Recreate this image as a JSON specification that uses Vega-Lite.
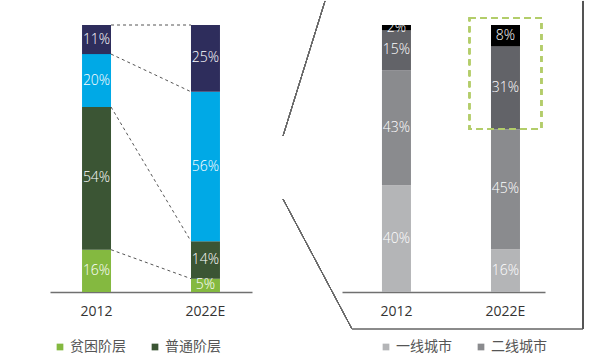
{
  "$schema": "https://vega.github.io/schema/vega-lite/v6.json",
  "background": "white",
  "padding": {"left": 50, "top": 0, "right": 0, "bottom": 0},
  "autosize": {"type": "pad"},
  "bounds": "flush",
  "spacing": 90,
  "config": {
    "view": {"stroke": null},
    "font": "Open Sans",
    "axis": {"labelFont": "Open Sans", "labelFontSize": 14, "labelColor": "#333333", "ticks": false, "labelPadding": 12, "labelAngle": 0, "title": null, "domainColor": "#707070", "domainWidth": 1.5, "grid": false},
    "legend": {"labelFont": "Noto Sans CJK SC", "labelFontSize": 14, "labelColor": "#555555", "symbolType": "square", "symbolSize": 45, "symbolStrokeWidth": 0, "labelOffset": 3, "columnPadding": 22, "orient": "none", "direction": "horizontal", "title": null}
  },
  "resolve": {"scale": {"color": "independent", "x": "independent", "y": "independent"}, "legend": {"color": "independent"}},
  "hconcat": [
    {
      "width": 202,
      "height": 267,
      "data": {"values": [
        {"year": "2012", "group": "贫困阶层", "share": 0.16, "rank": 1},
        {"year": "2012", "group": "普通阶层", "share": 0.54, "rank": 2},
        {"year": "2012", "group": "中产阶层", "share": 0.20, "rank": 3},
        {"year": "2012", "group": "富裕阶层", "share": 0.11, "rank": 4},
        {"year": "2022E", "group": "贫困阶层", "share": 0.05, "rank": 1},
        {"year": "2022E", "group": "普通阶层", "share": 0.14, "rank": 2},
        {"year": "2022E", "group": "中产阶层", "share": 0.56, "rank": 3},
        {"year": "2022E", "group": "富裕阶层", "share": 0.25, "rank": 4}
      ]},
      "layer": [
        {
          "mark": {"type": "bar"},
          "encoding": {
            "x": {"field": "year", "type": "nominal", "sort": ["2012", "2022E"], "scale": {"paddingInner": 0.734, "paddingOuter": 0.294}},
            "y": {"field": "share", "type": "quantitative", "stack": "normalize", "scale": {"domain": [0, 1], "nice": false}, "axis": null},
            "color": {"field": "group", "type": "nominal",
              "scale": {"domain": ["贫困阶层", "普通阶层", "中产阶层", "富裕阶层"], "range": ["#84b940", "#3b5534", "#00a9e6", "#2e2d5c"]},
              "legend": {"values": ["贫困阶层", "普通阶层"], "legendX": 3, "legendY": 315}},
            "order": {"field": "rank", "type": "quantitative"}
          }
        },
        {
          "mark": {"type": "text", "color": "white", "fontSize": 14, "font": "Open Sans", "fontWeight": 300},
          "encoding": {
            "x": {"field": "year", "type": "nominal", "sort": ["2012", "2022E"]},
            "y": {"field": "share", "type": "quantitative", "stack": "normalize", "bandPosition": 0.5},
            "detail": {"field": "group"},
            "order": {"field": "rank", "type": "quantitative"},
            "text": {"field": "share", "type": "quantitative", "format": ".0%"}
          }
        },
        {
          "transform": [
            {"joinaggregate": [{"op": "sum", "field": "share", "as": "total"}], "groupby": ["year"]},
            {"window": [{"op": "sum", "field": "share", "as": "cum"}], "groupby": ["year"], "sort": [{"field": "rank", "order": "ascending"}], "frame": [null, 0]},
            {"calculate": "datum.cum / datum.total", "as": "top"},
            {"pivot": "year", "value": "top", "groupby": ["group"]}
          ],
          "mark": {"type": "rule", "strokeDash": [3, 3], "color": "#555555", "strokeWidth": 1, "xOffset": 14.5, "x2Offset": -14.5},
          "encoding": {
            "x": {"datum": "2012"},
            "x2": {"datum": "2022E"},
            "y": {"field": "2012", "type": "quantitative"},
            "y2": {"field": "2022E"}
          }
        }
      ]
    },
    {
      "width": 203,
      "height": 267,
      "data": {"values": [
        {"year": "2012", "tier": "一线城市", "share": 0.40, "rank": 1},
        {"year": "2012", "tier": "二线城市", "share": 0.43, "rank": 2},
        {"year": "2012", "tier": "三线城市", "share": 0.15, "rank": 3},
        {"year": "2012", "tier": "四线城市", "share": 0.02, "rank": 4},
        {"year": "2022E", "tier": "一线城市", "share": 0.16, "rank": 1},
        {"year": "2022E", "tier": "二线城市", "share": 0.45, "rank": 2},
        {"year": "2022E", "tier": "三线城市", "share": 0.31, "rank": 3},
        {"year": "2022E", "tier": "四线城市", "share": 0.08, "rank": 4}
      ]},
      "resolve": {"scale": {"x": "independent"}},
      "layer": [
        {
          "layer": [
            {
              "mark": {"type": "bar"},
              "encoding": {
                "x": {"field": "year", "type": "nominal", "sort": ["2012", "2022E"], "scale": {"paddingInner": 0.734, "paddingOuter": 0.298, "align": 0.615}},
                "y": {"field": "share", "type": "quantitative", "stack": "zero", "scale": {"domain": [0, 1], "nice": false}, "axis": null},
                "color": {"field": "tier", "type": "nominal",
                  "scale": {"domain": ["一线城市", "二线城市", "三线城市", "四线城市"], "range": ["#b4b5b7", "#8a8b8e", "#626368", "#000000"]},
                  "legend": {"values": ["一线城市", "二线城市"], "legendX": 37, "legendY": 315}},
                "order": {"field": "rank", "type": "quantitative"}
              }
            },
            {
              "mark": {"type": "text", "color": "white", "fontSize": 14, "font": "Open Sans", "fontWeight": 300},
              "encoding": {
                "x": {"field": "year", "type": "nominal", "sort": ["2012", "2022E"]},
                "y": {"field": "share", "type": "quantitative", "stack": "zero", "bandPosition": 0.5},
                "detail": {"field": "tier"},
                "order": {"field": "rank", "type": "quantitative"},
                "text": {"field": "share", "type": "quantitative", "format": ".0%"}
              }
            },
            {
              "mark": {"type": "bar", "width": 72, "fill": "transparent", "stroke": "#b3cd6a", "strokeWidth": 1.6, "strokeDash": [6, 5], "y2Offset": -7},
              "encoding": {
                "x": {"datum": "2022E"},
                "y": {"datum": 0.61},
                "y2": {"datum": 1}
              }
            }
          ]
        },
        {
          "layer": [
            {
              "mark": {"type": "rule", "color": "#6a6a6a", "strokeWidth": 1},
              "encoding": {
                "x": {"datum": -0.0837, "type": "quantitative", "scale": {"domain": [0, 1], "nice": false, "zero": false}, "axis": null},
                "x2": {"datum": -0.2906},
                "y": {"datum": 1.0899, "type": "quantitative", "axis": null},
                "y2": {"datum": 0.5843}
              }
            },
            {
              "mark": {"type": "rule", "color": "#6a6a6a", "strokeWidth": 1},
              "encoding": {
                "x": {"datum": -0.2906, "type": "quantitative"},
                "x2": {"datum": 0.0493},
                "y": {"datum": 0.3483, "type": "quantitative"},
                "y2": {"datum": -0.1386}
              }
            },
            {
              "mark": {"type": "rule", "color": "#8a8a8a", "strokeWidth": 1},
              "encoding": {
                "x": {"datum": 0.0493, "type": "quantitative"},
                "x2": {"datum": 1.1872},
                "y": {"datum": -0.1386, "type": "quantitative"}
              }
            },
            {
              "mark": {"type": "rule", "color": "#555555", "strokeWidth": 1},
              "encoding": {
                "x": {"datum": 1.1872, "type": "quantitative"},
                "y": {"datum": 1.0899, "type": "quantitative"},
                "y2": {"datum": -0.1386}
              }
            }
          ]
        }
      ]
    }
  ]
}
